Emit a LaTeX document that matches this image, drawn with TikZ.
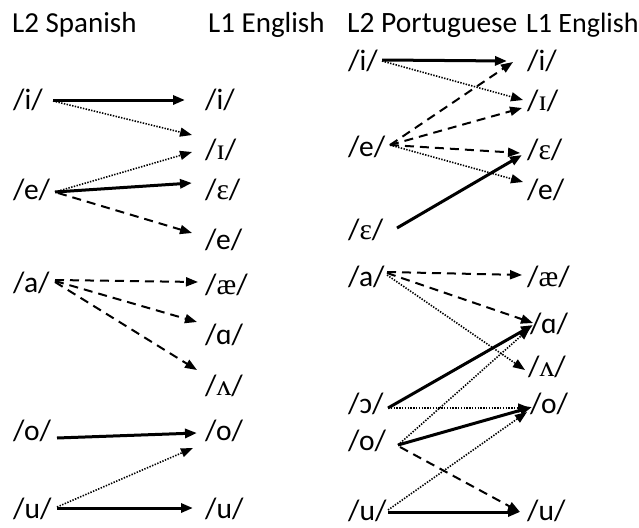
\documentclass[tikz,border=0pt]{standalone}
\usepackage{fontspec}
\setmainfont{Carlito}
\newfontfamily\ipaserif{Liberation Serif}
\usetikzlibrary{arrows.meta}
\newcommand{\ips}[1]{{\ipaserif #1}}
\begin{document}
\begin{tikzpicture}[x=1pt,y=-1pt,
  lbl/.style={anchor=west,inner sep=0pt,font=\fontsize{29.5}{32}\selectfont},
  hdr/.style={anchor=base west,inner sep=0pt,font=\fontsize{29}{32}\selectfont},
  tip/.style={-{Triangle[length=12pt,width=9pt]}},
  strong/.style={tip,line width=3pt},
  medium/.style={tip,line width=2pt,dash pattern=on 9pt off 6pt},
  weak/.style={tip,line width=1.6pt,dash pattern=on 1.4pt off 1.4pt}]
\useasboundingbox (0,0) rectangle (639,527);

% headings
\node[hdr] (hsp) at (12,33) {L2 Spanish};
\node[hdr] (hen1) at (208,33) {L1 English};
\node[hdr,font=\fontsize{29.5}{32}\selectfont] (hpt) at (347,33) {L2 Portuguese};
\node[hdr,font=\fontsize{28}{32}\selectfont] (hen2) at (526,33) {L1 English};

% Spanish vowels
\node[lbl] (si) at (13,100) {/i/};
\node[lbl] (se) at (13,190) {/e/};
\node[lbl] (sa) at (13,283) {/a/};
\node[lbl] (so) at (13,431) {/o/};
\node[lbl] (su) at (13,509) {/u/};

% English vowels (left panel)
\node[lbl] (ei) at (205,100) {/i/};
\node[lbl] (eI) at (205,150) {/\ips{ɪ}/};
\node[lbl] (eE) at (205,190) {/\ips{ɛ}/};
\node[lbl] (ee) at (205,240) {/e/};
\node[lbl] (eae) at (205,285) {/\ips{æ}/};
\node[lbl] (eA) at (205,335) {/ɑ/};
\node[lbl] (eV) at (205,386) {/\ips{ʌ}/};
\node[lbl] (eo) at (205,431) {/o/};
\node[lbl] (eu) at (205,509) {/u/};

% Spanish to English
\draw[strong] ([shift={(40,0)}]si.west) -- ([shift={(-20,0)}]ei.west);
\draw[weak]   ([shift={(40,1)}]si.west) -- ([shift={(-13,-15)}]eI.west);
\draw[weak]   ([shift={(42,2)}]se.west) -- ([shift={(-13,2)}]eI.west);
\draw[strong] ([shift={(42,2)}]se.west) -- ([shift={(-13,-7)}]eE.west);
\draw[medium] ([shift={(45,3)}]se.west) -- ([shift={(-13,-7)}]ee.west);
\draw[medium] ([shift={(42,-3)}]sa.west) -- ([shift={(-7,-3)}]eae.west);
\draw[medium] ([shift={(42,-2)}]sa.west) -- ([shift={(-8,-13)}]eA.west);
\draw[medium] ([shift={(42,-1)}]sa.west) -- ([shift={(-8,-16)}]eV.west);
\draw[strong] ([shift={(44,7)}]so.west) -- ([shift={(-8,2)}]eo.west);
\draw[strong] ([shift={(44,-1)}]su.west) -- ([shift={(-12,-1)}]eu.west);
\draw[weak]   ([shift={(44,-2)}]su.west) -- ([shift={(-12,17)}]eo.west);

% Portuguese vowels
\node[lbl] (pi) at (348,61) {/i/};
\node[lbl] (pe) at (348,147) {/e/};
\node[lbl] (pE) at (348,230) {/\ips{ɛ}/};
\node[lbl] (pa) at (348,277) {/a/};
\node[lbl] (pO) at (348,404) {/ɔ/};
\node[lbl] (po) at (348,441) {/o/};
\node[lbl] (pu) at (348,511) {/u/};

% English vowels (right panel)
\node[lbl] (fi) at (527,61) {/i/};
\node[lbl] (fI) at (527,101) {/\ips{ɪ}/};
\node[lbl] (fE) at (527,150) {/\ips{ɛ}/};
\node[lbl] (fe) at (527,190) {/e/};
\node[lbl] (fae) at (527,277) {/\ips{æ}/};
\node[lbl] (fA) at (530,324) {/ɑ/};
\node[lbl] (fV) at (528,367) {/\ips{ʌ}/};
\node[lbl] (fo) at (530,404) {/o/};
\node[lbl] (fu) at (527,511) {/u/};

% Portuguese to English
\draw[strong] ([shift={(34,-1)}]pi.west) -- ([shift={(-20,0)}]fi.west);
\draw[weak]   ([shift={(34,0)}]pi.west) -- ([shift={(-4,-1)}]fI.west);
\draw[medium] ([shift={(42,-2)}]pe.west) -- ([shift={(-14,1)}]fi.west);
\draw[medium] ([shift={(42,-2)}]pe.west) -- ([shift={(-5,7)}]fI.west);
\draw[medium] ([shift={(42,-2)}]pe.west) -- ([shift={(-7,3)}]fE.west);
\draw[weak]   ([shift={(42,-2)}]pe.west) -- ([shift={(-4,-8)}]fe.west);
\draw[strong] ([shift={(49,-2)}]pE.west) -- ([shift={(-5,5)}]fE.west);
\draw[medium] ([shift={(39,-5)}]pa.west) -- ([shift={(-5,-2)}]fae.west);
\draw[medium] ([shift={(39,-4)}]pa.west) -- ([shift={(3,-1)}]fA.west);
\draw[weak]   ([shift={(39,-2)}]pa.west) -- ([shift={(-3,3)}]fV.west);
\draw[strong] ([shift={(40,4)}]pO.west) -- ([shift={(3,1)}]fA.west);
\draw[weak]   ([shift={(40,4)}]pO.west) -- ([shift={(0,4)}]fo.west);
\draw[strong] ([shift={(50,4)}]po.west) -- ([shift={(2,3)}]fo.west);
\draw[weak]   ([shift={(50,4)}]po.west) -- ([shift={(0,4)}]fA.west);
\draw[medium] ([shift={(52,6)}]po.west) -- ([shift={(-7,1)}]fu.west);
\draw[strong] ([shift={(40,1)}]pu.west) -- ([shift={(-7,1)}]fu.west);
\draw[weak]   ([shift={(40,-1)}]pu.west) -- ([shift={(-3,8)}]fo.west);
\end{tikzpicture}
\end{document}
